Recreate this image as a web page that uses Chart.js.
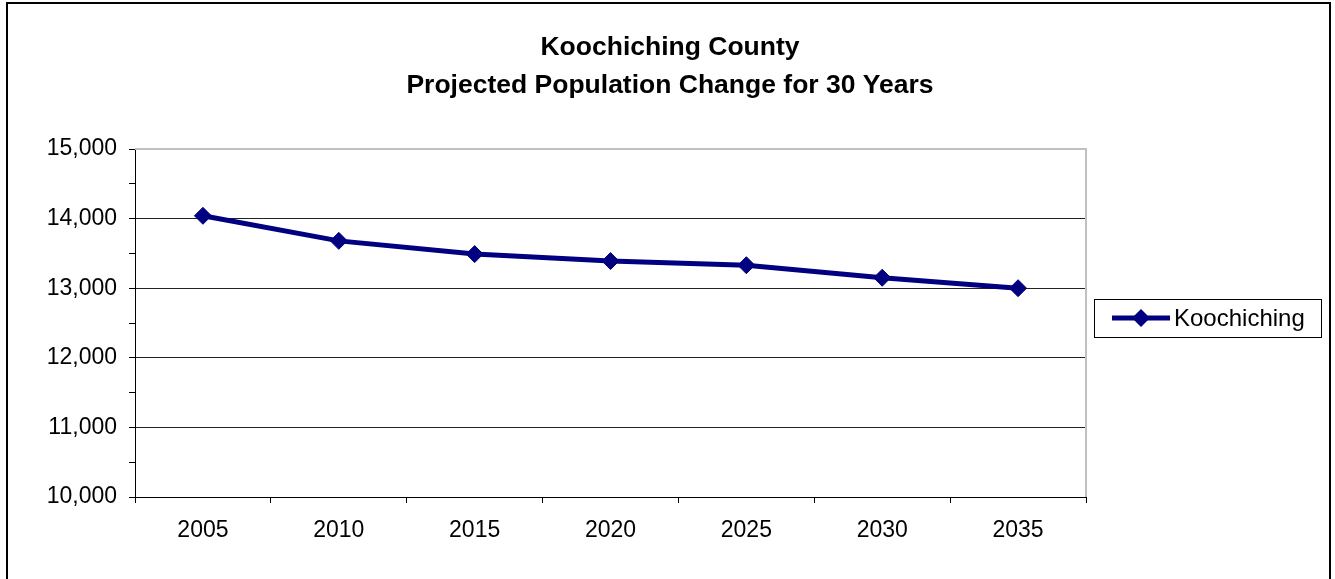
<!DOCTYPE html>
<html>
<head>
  <meta http-equiv="content-type" content="text/html; charset=utf-8"/>
  <script src="https://cdn.jsdelivr.net/npm/chart.js"></script>
  <style>
    body { margin: 0; background: #fff; }
  </style>
</head>
<body>
<canvas id="chart" width="1335" height="579"></canvas>

<script>
    // data
    const years = ['2005', '2010', '2015', '2020', '2025', '2030', '2035'];
    const koochiching = [14040, 13680, 13490, 13390, 13330, 13150, 13000];
    const seriesName = 'Koochiching';
    const titleLines = ['Koochiching County', 'Projected Population Change for 30 Years'];

    const FONT = '"Liberation Sans", Arial, sans-serif';
    const NAVY = '#000080';

    // outer frame, title over the whole page, grey plot border and the boxed legend
    const excelBits = {
        id: 'excelBits',
        beforeDatasetsDraw(chart) {
            const a = chart.chartArea;
            const ctx = chart.ctx;
            ctx.save();
            ctx.strokeStyle = '#c0c0c0';
            ctx.lineWidth = 2;
            ctx.beginPath();
            ctx.moveTo(a.left, a.top);
            ctx.lineTo(a.right, a.top);
            ctx.lineTo(a.right, a.bottom);
            ctx.stroke();
            ctx.restore();
        },
        afterDraw(chart) {
            const ctx = chart.ctx;
            ctx.save();
            ctx.strokeStyle = '#000';
            ctx.lineWidth = 2;
            ctx.strokeRect(7, 3, 1323, 600);

            ctx.fillStyle = '#000';
            ctx.font = 'bold 26.5px ' + FONT;
            ctx.textAlign = 'center';
            ctx.textBaseline = 'middle';
            titleLines.forEach((t, i) => ctx.fillText(t, 670, 48 + i * 38));

            // legend box
            ctx.textAlign = 'left';
            ctx.lineWidth = 1;
            ctx.strokeRect(1094.5, 299.5, 227, 38);
            const ly = 318;
            ctx.strokeStyle = NAVY;
            ctx.lineWidth = 5;
            ctx.beginPath();
            ctx.moveTo(1112, ly);
            ctx.lineTo(1170, ly);
            ctx.stroke();
            ctx.fillStyle = NAVY;
            ctx.beginPath();
            ctx.moveTo(1141, ly - 9);
            ctx.lineTo(1150, ly);
            ctx.lineTo(1141, ly + 9);
            ctx.lineTo(1132, ly);
            ctx.closePath();
            ctx.fill();
            ctx.fillStyle = '#000';
            ctx.font = '24px ' + FONT;
            ctx.fillText(chart.data.datasets[0].label, 1174, ly + 1);
            ctx.restore();
        }
    };

    new Chart(document.getElementById('chart'), {
        type: 'line',
        data: {
            labels: years,
            datasets: [{
                label: seriesName,
                data: koochiching,
                borderColor: NAVY,
                backgroundColor: NAVY,
                borderWidth: 5,
                pointStyle: 'rectRot',
                pointRadius: 8.5,
                pointBorderWidth: 1,
                pointHoverRadius: 8.5,
                tension: 0
            }]
        },
        options: {
            responsive: false,
            animation: false,
            layout: { padding: { left: 0, right: 249, top: 149, bottom: 0 } },
            plugins: {
                legend: { display: false },
                tooltip: { enabled: false },
                title: { display: false }
            },
            scales: {
                x: {
                    offset: true,
                    afterFit(scale) { scale.height = 82; },
                    border: { color: '#000', width: 1 },
                    grid: {
                        offset: true,
                        drawOnChartArea: false,
                        tickLength: 6,
                        tickColor: '#000'
                    },
                    ticks: {
                        color: '#000',
                        font: { family: FONT, size: 23 },
                        padding: 14,
                        maxRotation: 0
                    }
                },
                y: {
                    min: 10000,
                    max: 15000,
                    afterFit(scale) { scale.width = 135; },
                    border: { color: '#000', width: 1 },
                    grid: {
                        tickLength: 6,
                        tickColor: '#000',
                        color(c) {
                            const v = c.tick ? c.tick.value : 0;
                            if (v === 15000) return 'rgba(0,0,0,0)';
                            return v % 1000 === 0 ? '#222' : 'rgba(0,0,0,0)';
                        }
                    },
                    ticks: {
                        stepSize: 500,
                        color: '#000',
                        font: { family: FONT, size: 23 },
                        padding: 12,
                        callback: (v) => v % 1000 === 0 ? v.toLocaleString('en-US') : ''
                    }
                }
            }
        },
        plugins: [excelBits]
    });
</script>
</body>
</html>
